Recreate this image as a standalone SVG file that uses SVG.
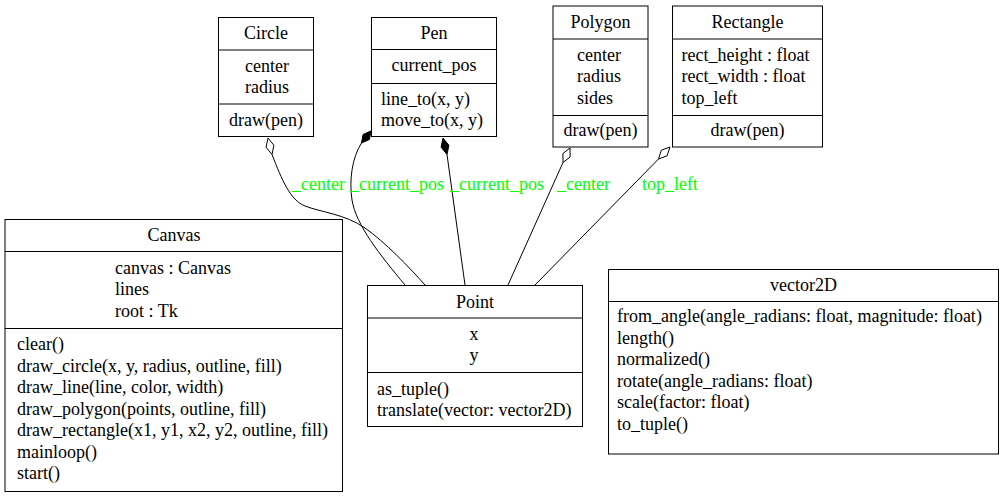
<svg xmlns="http://www.w3.org/2000/svg" width="1004" height="499" viewBox="0 0 1004 499">
<style>
.box{fill:#fff;stroke:#000;stroke-width:1}
.sep{stroke:#000;stroke-width:1}
text{font-family:'Liberation Serif', 'Times New Roman', Times, Tinos, 'Nimbus Roman', 'Nimbus Roman No9 L', FreeSerif, 'Noto Serif', 'DejaVu Serif', Georgia, serif;font-size:18px;fill:#000}
.c{text-anchor:middle}
.lbl{fill:#00ff00}
.edge{fill:none;stroke:#000;stroke-width:1}
.od{fill:#fff;stroke:#000;stroke-width:1}
.fd{fill:#000;stroke:#000;stroke-width:1}
</style>
<rect width="1004" height="499" fill="#fff"/>
<g id="edges">
<path class="edge" d="M272,154.5 C282,180 290,200 305,206 S345,214 365,228 S410,268 425,285"/>
<polygon class="od" points="268,138 273.9,145.3 272,154.5 266.1,147.2"/>
<path class="edge" d="M361.5,143 C352,158 349,180 352,200 C356,225 380,255 405,285"/>
<polygon class="fd" points="371,131 369.4,139.5 361.5,143 363.1,134.5"/>
<path class="edge" d="M447,154.5 L465,285"/>
<polygon class="fd" points="443,138 448.9,145.3 447,154.5 441.1,147.2"/>
<path class="edge" d="M563,162.5 L508,285"/>
<polygon class="od" points="570,148 570.1,157 563,162.5 562.9,153.5"/>
<path class="edge" d="M658.5,159 L535,285"/>
<polygon class="od" points="670,147 667.1,155.8 658.5,159 661.4,150.2"/>
<text class="lbl" x="292" y="190">_center</text>
<text class="lbl" x="350" y="190">_current_pos</text>
<text class="lbl" x="450" y="190">_current_pos</text>
<text class="lbl" x="557" y="190">_center</text>
<text class="lbl" x="642" y="190">top_left</text>
</g>
<g id="Circle">
<rect class="box" x="218.5" y="17.5" width="95" height="119"/>
<line class="sep" x1="218.5" y1="50" x2="313.5" y2="50"/>
<line class="sep" x1="218.5" y1="104" x2="313.5" y2="104"/>
<text class="c" x="266" y="39">Circle</text>
<text x="245" y="71.5">center</text>
<text x="245" y="93">radius</text>
<text class="c" x="266" y="125.5">draw(pen)</text>
</g>
<g id="Pen">
<rect class="box" x="371.5" y="17.5" width="125" height="119"/>
<line class="sep" x1="371.5" y1="49.5" x2="496.5" y2="49.5"/>
<line class="sep" x1="371.5" y1="83.5" x2="496.5" y2="83.5"/>
<text class="c" x="434" y="39">Pen</text>
<text class="c" x="434" y="71">current_pos</text>
<text x="381" y="104.5">line_to(x, y)</text>
<text x="381" y="126">move_to(x, y)</text>
</g>
<g id="Polygon">
<rect class="box" x="553" y="6" width="95" height="141"/>
<line class="sep" x1="553" y1="39" x2="648" y2="39"/>
<line class="sep" x1="553" y1="115.5" x2="648" y2="115.5"/>
<text class="c" x="600.5" y="28">Polygon</text>
<text x="577" y="60.5">center</text>
<text x="577" y="82">radius</text>
<text x="577" y="103.5">sides</text>
<text class="c" x="600.5" y="136">draw(pen)</text>
</g>
<g id="Rectangle">
<rect class="box" x="672.5" y="6" width="150" height="141"/>
<line class="sep" x1="672.5" y1="39" x2="822.5" y2="39"/>
<line class="sep" x1="672.5" y1="115.5" x2="822.5" y2="115.5"/>
<text class="c" x="747.5" y="28">Rectangle</text>
<text x="681.5" y="60.5">rect_height : float</text>
<text x="681.5" y="82">rect_width : float</text>
<text x="681.5" y="103.5">top_left</text>
<text class="c" x="747.5" y="136">draw(pen)</text>
</g>
<g id="Canvas">
<rect class="box" x="5" y="219.5" width="337.5" height="272"/>
<line class="sep" x1="5" y1="251.5" x2="342.5" y2="251.5"/>
<line class="sep" x1="5" y1="328.5" x2="342.5" y2="328.5"/>
<text class="c" x="174" y="241">Canvas</text>
<text x="115" y="273.5">canvas : Canvas</text>
<text x="115" y="295">lines</text>
<text x="115" y="316.5">root : Tk</text>
<text x="17" y="350">clear()</text>
<text x="17" y="371.5">draw_circle(x, y, radius, outline, fill)</text>
<text x="17" y="393">draw_line(line, color, width)</text>
<text x="17" y="414.5">draw_polygon(points, outline, fill)</text>
<text x="17" y="436">draw_rectangle(x1, y1, x2, y2, outline, fill)</text>
<text x="17" y="457.5">mainloop()</text>
<text x="17" y="479">start()</text>
</g>
<g id="Point">
<rect class="box" x="367.5" y="285.5" width="215" height="141"/>
<line class="sep" x1="367.5" y1="318" x2="582.5" y2="318"/>
<line class="sep" x1="367.5" y1="372.5" x2="582.5" y2="372.5"/>
<text class="c" x="475" y="307.5">Point</text>
<text class="c" x="474" y="339.5">x</text>
<text class="c" x="474" y="361">y</text>
<text x="377" y="394.5">as_tuple()</text>
<text x="377" y="416">translate(vector: vector2D)</text>
</g>
<g id="vector2D">
<rect class="box" x="608.5" y="269.5" width="390" height="184.5"/>
<line class="sep" x1="608.5" y1="301.5" x2="998.5" y2="301.5"/>
<text class="c" x="803.5" y="291">vector2D</text>
<text x="617" y="322">from_angle(angle_radians: float, magnitude: float)</text>
<text x="617" y="343.5">length()</text>
<text x="617" y="365">normalized()</text>
<text x="617" y="386.5">rotate(angle_radians: float)</text>
<text x="617" y="408">scale(factor: float)</text>
<text x="617" y="429.5">to_tuple()</text>
</g>
</svg>
